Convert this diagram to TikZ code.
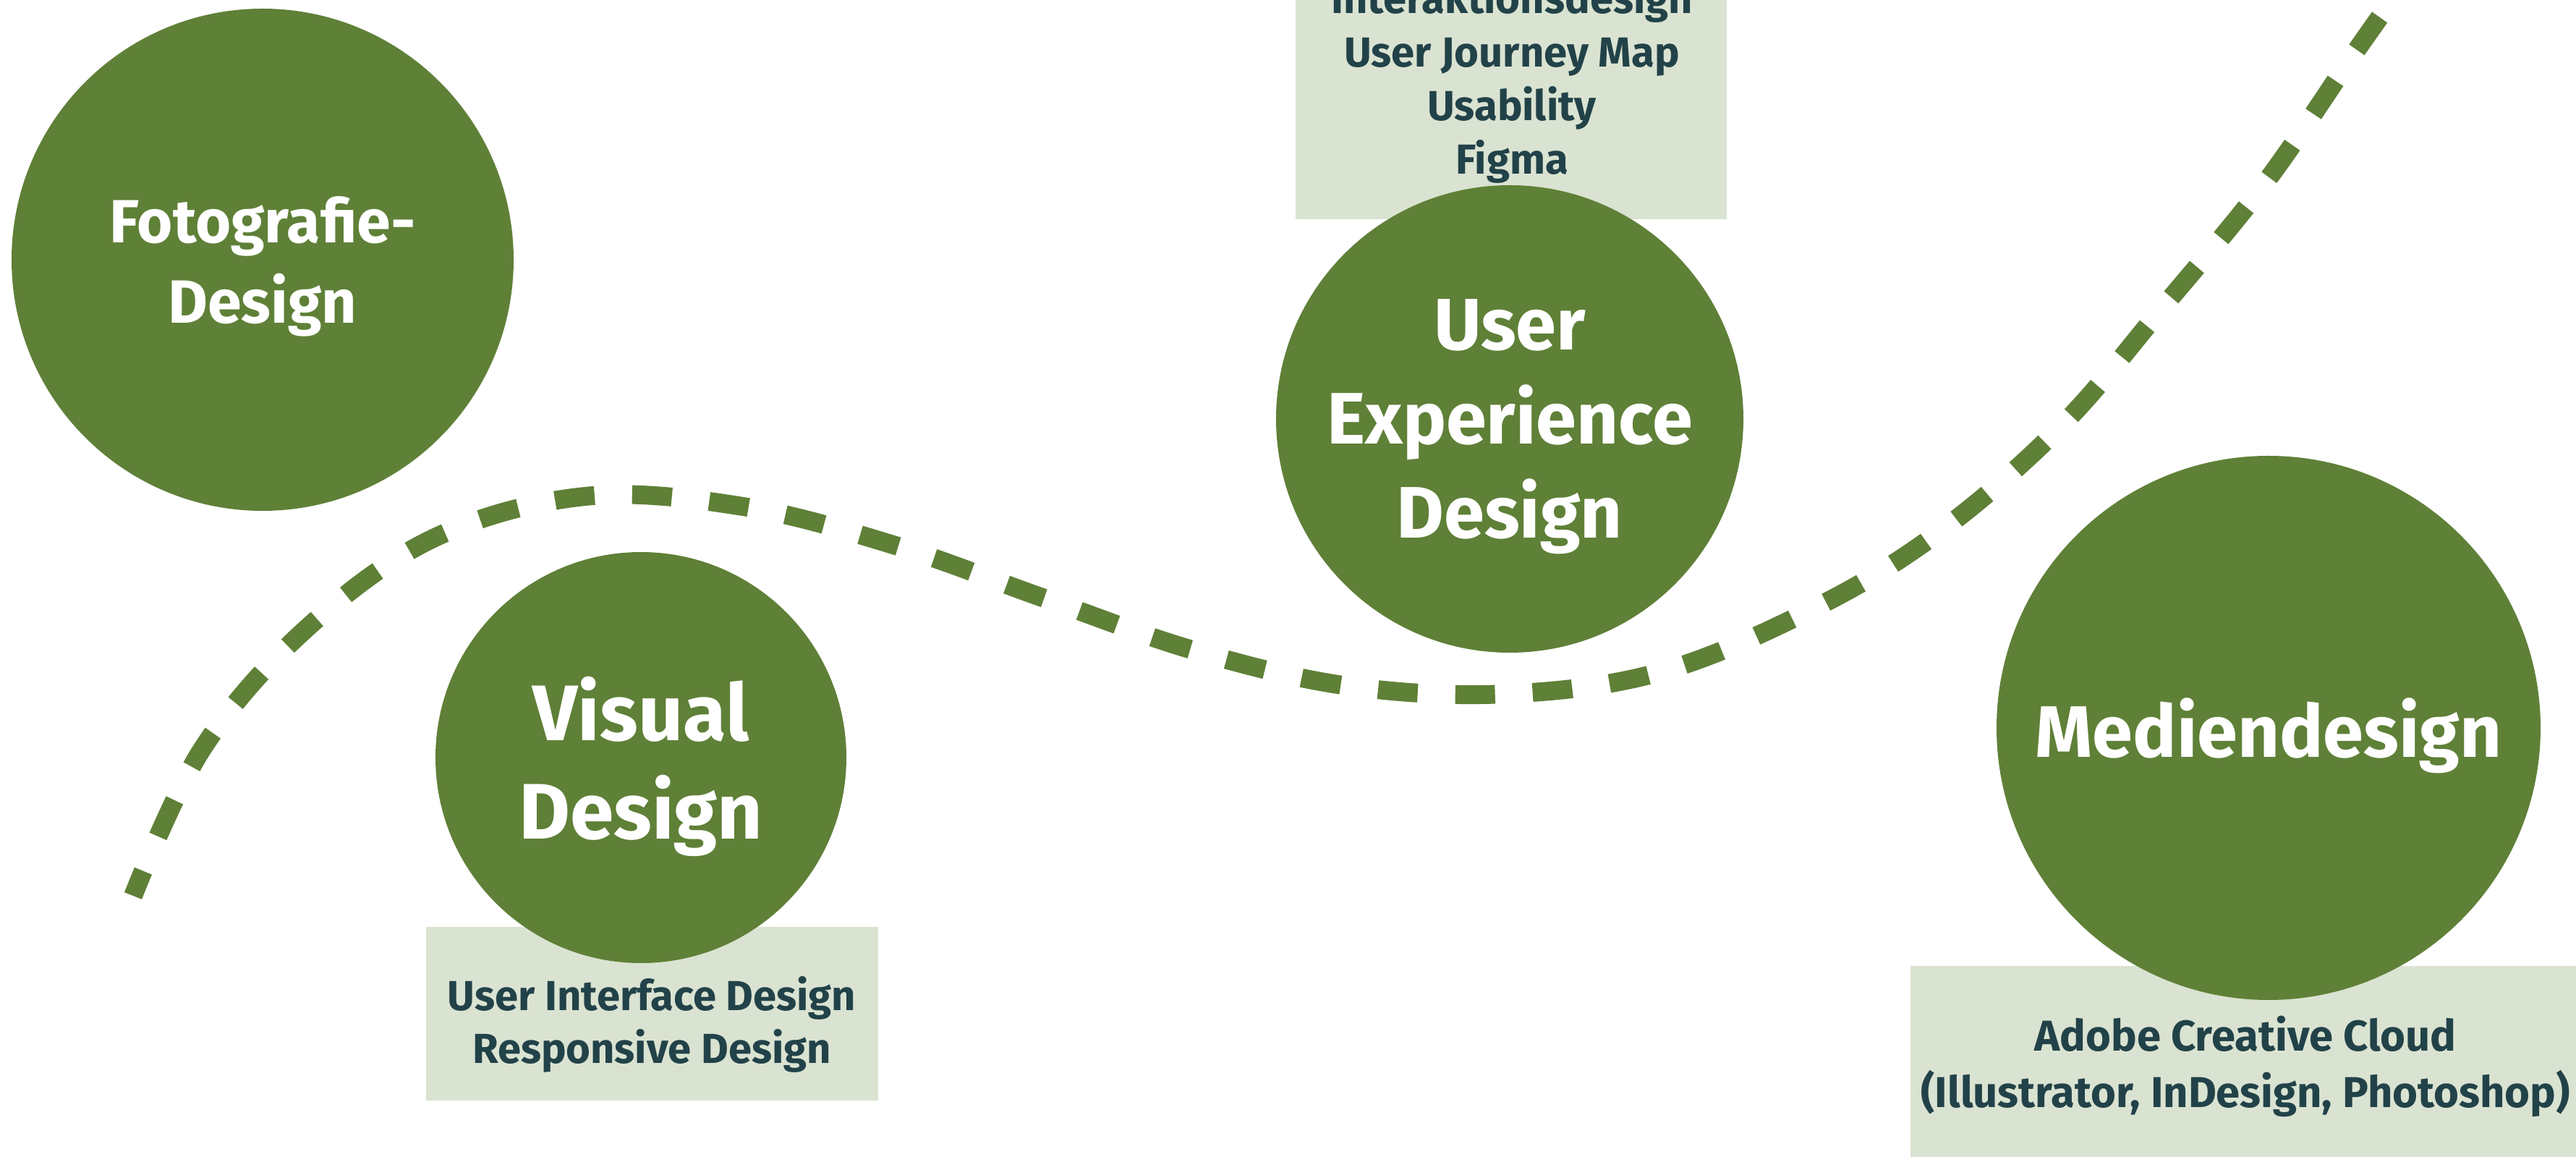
\documentclass[tikz,border=0pt]{standalone}
\usepackage{fontspec}
\setmainfont{Fira Sans}
\usepackage{xcolor}
\usepackage{tikz}
\usetikzlibrary{positioning}

\definecolor{leaf}{RGB}{95,128,55}
\definecolor{sage}{RGB}{218,227,209}
\definecolor{ink}{RGB}{34,66,73}

\begin{document}
\begin{tikzpicture}[x=1cm,y=1cm,
	topic/.style={circle, fill=leaf, text=white, align=center, inner sep=0pt, text depth=0pt},
	tagbox/.style={fill=sage, inner sep=0pt},
	tagtext/.style={text=ink, align=center, font=\fontsize{16.5}{21}\selectfont\bfseries},
	trail/.style={leaf, line width=0.26cm, dash pattern=on 0.55cm off 0.52cm, dash phase=0.18cm}]
	\def\W{35.61}
	\def\H{15.99}
	
	\useasboundingbox (0,0) rectangle (\W,\H);
	\clip (0,0) rectangle (\W,\H);
	\fill[white] (0,0) rectangle (\W,\H);
	
	% dashed path
	\draw[trail] plot[smooth, tension=0.6] coordinates {
		(1.84,3.61) (2.79,5.63) (4.21,7.28) (5.99,8.55) (8.09,9.13)
		(10.27,8.99) (12.38,8.45) (14.44,7.72) (16.51,7.00) (18.63,6.51)
		(20.82,6.40) (22.98,6.71) (25.15,7.62) (26.85,8.67) (28.50,10.11)
		(29.87,11.71) (31.31,13.46) (32.55,15.26) (33.60,16.74)};
	
	% tag boxes
	\node[tagbox, minimum width=5.96cm, minimum height=4.06cm] (uxbox) at (20.89,14.99) {};
	\node[tagbox, minimum width=6.25cm, minimum height=2.40cm] (uibox) at (9.015,1.98) {};
	\node[tagbox, minimum width=9.26cm, minimum height=3.00cm] (toolbox) at (31.04,1.14) {};
	
	\node[tagtext] (uxtags) at (20.90,14.865) {Interaktionsdesign\\User Journey Map\\Usability\\Figma};
	\node[tagtext] (uitags) at (9.01,1.83) {User Interface Design\\Responsive Design};
	\node[tagtext, font=\fontsize{17}{22.2}\selectfont\bfseries] (tooltags) at (31.04,1.255) {Adobe Creative Cloud\\(Illustrator, InDesign, Photoshop)};
	
	% topics
	\node[topic, minimum size=6.94cm, font=\fontsize{24}{31.6}\selectfont\bfseries] (foto) at (3.63,12.40) {Fotografie-\\Design};
	\node[topic, minimum size=5.68cm, font=\fontsize{31}{38.7}\selectfont\bfseries] (visual) at (8.86,5.52) {Visual\\Design};
	\node[topic, minimum size=6.46cm, font=\fontsize{28.7}{37}\selectfont\bfseries] (ux) at (20.87,10.20) {User\\Experience\\Design};
	\node[topic, minimum size=7.52cm, font=\fontsize{28.7}{37}\selectfont\bfseries] (medien) at (31.36,5.93) {Mediendesign};
\end{tikzpicture}
\end{document}
